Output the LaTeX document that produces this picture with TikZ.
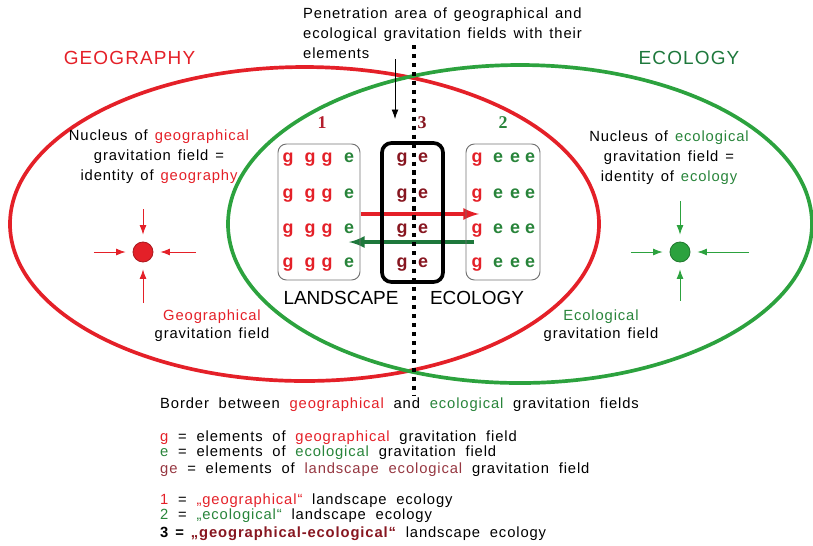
\documentclass[tikz,border=0pt]{standalone}
\usepackage{fontspec}
\setmainfont{Liberation Sans}
\newfontfamily\numfont{Liberation Serif}
\newfontfamily\spacedfont{Liberation Sans}[LetterSpace=6,WordSpace=1.3]
\newfontfamily\legendfont{Liberation Sans}[LetterSpace=6,WordSpace=1.4]
\usepackage{tikz-network}
\usetikzlibrary{arrows.meta}

\definecolor{geored}{RGB}{228,32,40}
\definecolor{ecogreen}{RGB}{44,162,62}
\definecolor{ecotext}{RGB}{40,132,58}
\definecolor{ecodark}{RGB}{30,120,60}
\definecolor{landred}{RGB}{135,22,32}
\definecolor{numred}{RGB}{180,30,45}
\definecolor{gebrown}{RGB}{150,55,65}

\newcommand{\tgeo}[1]{\textcolor{geored}{#1}}
\newcommand{\teco}[1]{\textcolor{ecotext}{#1}}

\tikzset{
  txt/.style={font=\legendfont\fontsize{14}{16}\selectfont, inner sep=0pt},
  nuctxt/.style={font=\spacedfont\fontsize{14}{19}\selectfont, inner sep=0pt, align=center},
  title/.style={font=\spacedfont\fontsize{18}{20}\selectfont, inner sep=0pt},
  ls/.style={font=\fontsize{18}{20}\selectfont, inner sep=0pt},
  num/.style={font=\fontsize{17}{20}\selectfont\numfont\bfseries, inner sep=0pt},
  elem/.style={font=\fontsize{17}{17}\selectfont\bfseries, inner sep=0pt, anchor=base},
  gbox/.style={draw=black!55, line width=0.9pt, rounded corners=8pt},
  ovlbox/.style={draw=black, line width=3.5pt, rounded corners=9pt},
  border/.style={line width=4.5pt, dash pattern=on 4pt off 4.5pt},
  pull/.style={line width=0.8pt, shorten >=7pt, -{Latex[length=9pt,width=6.5pt]}},
}

\begin{document}
\begin{tikzpicture}
\useasboundingbox (0,0) rectangle (27.1,-18.167);

\SetVertexStyle[LineWidth=0.8]

% gravitation fields
\draw[geored, line width=3.5pt] (10.15,-7.467) ellipse (9.817 and 5.233);
\draw[ecogreen, line width=3.5pt] (17.333,-7.467) ellipse (9.733 and 5.3);

\node[title, text=geored] (geotitle) at (4.317,-1.933) {GEOGRAPHY};
\node[title, text=ecodark] (ecotitle) at (22.967,-1.933) {ECOLOGY};

% boxes 1, 3, 2
\draw[gbox] (9.267,-4.8) rectangle (12,-9.333);
\draw[ovlbox] (12.733,-4.767) rectangle (14.767,-9.4);
\draw[gbox] (15.533,-4.8) rectangle (18,-9.333);

\coordinate (bordtop) at (13.8,-1.5);
\coordinate (bordbot) at (13.8,-13.2);
\draw[border] (bordtop) -- (bordbot);

\node[num, text=numred] (n1) at (10.733,-4.1) {1};
\node[num, text=landred] (n3) at (14.067,-4.1) {3};
\node[num, text=ecotext] (n2) at (16.767,-4.1) {2};

\foreach \y [count=\r] in {-5.433,-6.6,-7.767,-8.933}{
  \foreach \x/\l/\c [count=\k] in {9.6/g/geored,10.333/g/geored,10.9/g/geored,11.633/e/ecotext,
      13.4/g/landred,14.1/e/landred,
      15.9/g/geored,16.6/e/ecotext,17.167/e/ecotext,17.667/e/ecotext}
    \node[elem, text=\c] (el-\r-\k) at (\x,\y) {\l};
}

% flows between the fields
\Vertex[x=11.733,y=-7.133,Pseudo]{geoA}
\Vertex[x=16.267,y=-7.133,Pseudo]{geoB}
\Vertex[x=16.1,y=-8.067,Pseudo]{ecoA}
\Vertex[x=11.333,y=-8.067,Pseudo]{ecoB}
\Edge[Direct,color=geored,lw=4](geoA)(geoB)
\Edge[Direct,color=ecodark,lw=4](ecoA)(ecoB)

\node[ls] (lsc) at (11.367,-9.933) {LANDSCAPE};
\node[ls] (lsceco) at (15.9,-9.933) {ECOLOGY};

% penetration area
\node[nuctxt, align=left, anchor=north west] (pen) at (10.1,-0.25)
  {Penetration area of geographical and\\ecological gravitation fields with their\\elements};
\Vertex[x=13.167,y=-1.667,Pseudo]{penA}
\Vertex[x=13.167,y=-4.267,Pseudo]{penB}
\draw[pull, shorten >=0pt] (penA) -- (penB);

% nucleus of geography
\node[nuctxt] (geonuctxt) at (5.3,-5.233)
  {Nucleus of \tgeo{geographical}\\gravitation field =\\identity of \tgeo{geography}};
\Vertex[x=4.767,y=-8.4,size=0.667,color=geored,style={draw=geored!75!black}]{geonuc}
\Vertex[x=4.767,y=-6.667,Pseudo]{geoT}
\Vertex[x=4.767,y=-10.4,Pseudo]{geoD}
\Vertex[x=2.833,y=-8.4,Pseudo]{geoL}
\Vertex[x=6.833,y=-8.4,Pseudo]{geoR}
\foreach \s in {geoT,geoD,geoL,geoR}
  \draw[pull, geored] (\s) -- (geonuc);
\node[nuctxt, font=\spacedfont\fontsize{14}{17}\selectfont] (geofield) at (7.067,-10.867)
  {\tgeo{Geographical}\\gravitation field};

% nucleus of ecology
\node[nuctxt] (econuctxt) at (22.3,-5.267)
  {Nucleus of \teco{ecological}\\gravitation field =\\identity of \teco{ecology}};
\Vertex[x=22.667,y=-8.4,size=0.667,color=ecogreen,style={draw=ecogreen!75!black}]{econuc}
\Vertex[x=22.667,y=-6.4,Pseudo]{ecoT}
\Vertex[x=22.667,y=-10.333,Pseudo]{ecoD}
\Vertex[x=20.733,y=-8.4,Pseudo]{ecoL}
\Vertex[x=25.267,y=-8.4,Pseudo]{ecoR}
\foreach \s in {ecoT,ecoD,ecoL,ecoR}
  \draw[pull, ecogreen] (\s) -- (econuc);
\node[nuctxt, font=\spacedfont\fontsize{14}{17}\selectfont] (ecofield) at (20.033,-10.867)
  {\teco{Ecological}\\gravitation field};

% legend
\node[txt, anchor=base west] (bordtxt) at (5.333,-13.6)
  {Border between \tgeo{geographical} and \teco{ecological} gravitation fields};
\node[txt, anchor=base west] (leg-g) at (5.333,-14.7)
  {\tgeo{g} = elements of \tgeo{geographical} gravitation field};
\node[txt, anchor=base west] (leg-e) at (5.333,-15.233)
  {\teco{e} = elements of \teco{ecological} gravitation field};
\node[txt, anchor=base west] (leg-ge) at (5.333,-15.767)
  {\textcolor{gebrown}{ge} = elements of \textcolor{gebrown}{landscape ecological} gravitation field};
\node[txt, anchor=base west] (leg-1) at (5.333,-16.8)
  {\tgeo{1} = \tgeo{„geographical“} landscape ecology};
\node[txt, anchor=base west] (leg-2) at (5.333,-17.333)
  {\teco{2} = \teco{„ecological“} landscape ecology};
\node[txt, anchor=base west] (leg-3) at (5.333,-17.9)
  {\textbf{3 = \textcolor{landred}{„geographical-ecological“}} landscape ecology};

\end{tikzpicture}
\end{document}
